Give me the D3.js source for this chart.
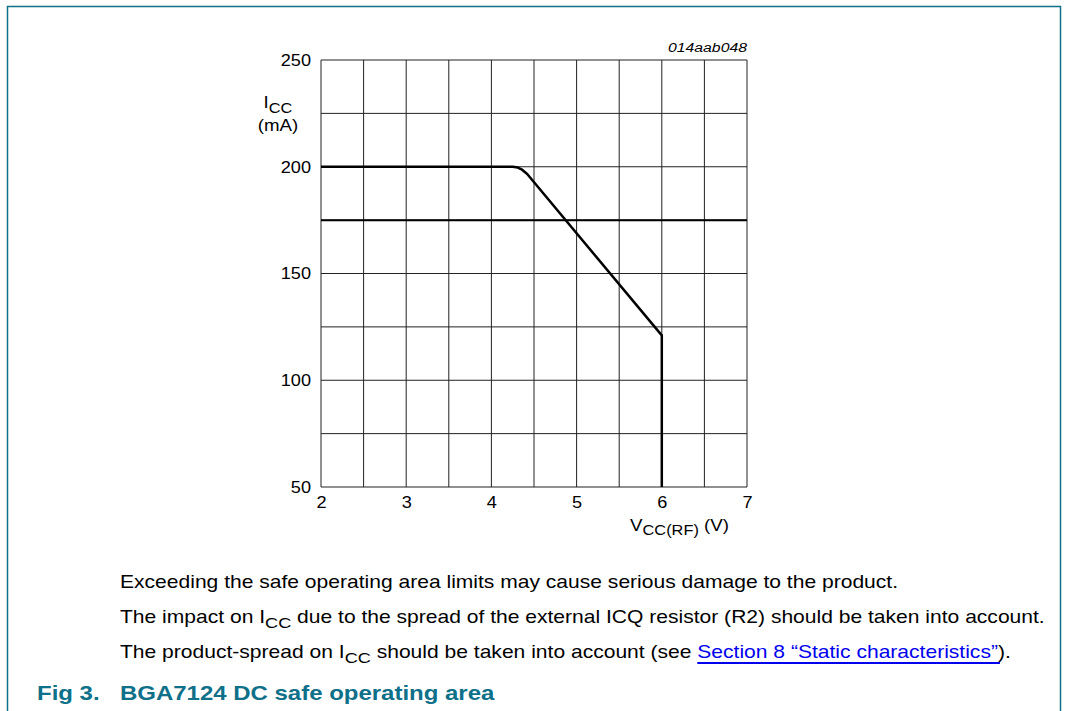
<!DOCTYPE html>
<meta charset="utf-8">
<script src="https://cdn.jsdelivr.net/npm/d3@7"></script>
<style>
body { margin: 0; background: #fff; }
text { font-family: "Liberation Sans", Arial, sans-serif; }
</style>
<body>
<div id="fig"></div>
<script>
// safe operating area boundary (Vcc, Icc)
var soaCurve = [[2, 200], [4.25, 200], [4.31, 199.6], [4.36, 198.6], [4.42, 196.6], [6, 121], [6, 50]]
// horizontal limit line
var limitLine = [[2, 175], [7, 175]]
var xTicks = [2, 3, 4, 5, 6, 7]
var yTicks = [50, 100, 150, 200, 250]
var xGrid = d3.range(2, 7.01, 0.5)
var yGrid = d3.range(50, 250.01, 25)
var notes = [
  ["Exceeding the safe operating area limits may cause serious damage to the product."],
  ["The impact on I", "CC", " due to the spread of the external ICQ resistor (R2) should be taken into account."],
  ["The product-spread on I", "CC", " should be taken into account (see "]
]

var W = 1065, H = 711
var margin = {top: 60, right: 318, bottom: 224, left: 321}
var width = W - margin.left - margin.right
var height = H - margin.top - margin.bottom
var teal = "#0e7089"
var sx = 1.17   // the source typesetting is a bit wider than plain Arial

var svg = d3.select("#fig").append("svg")
  .attr("width", W)
  .attr("height", H)

// text placed at (x,y) and stretched horizontally
function label(parent, px, py, size) {
  return parent.append("text")
    .attr("transform", "translate(" + px + "," + py + ") scale(" + sx + ",1)")
    .style("font-size", size + "px")
}

// page frame
svg.append("path")
  .attr("d", "M7.5," + H + "V6.5H1060.5V" + H)
  .attr("fill", "none")
  .attr("stroke", teal)
  .attr("stroke-width", 1.5)

var x = d3.scaleLinear().domain([2, 7]).range([0, width])
var y = d3.scaleLinear().domain([50, 250]).range([height, 0])

var g = svg.append("g")
  .attr("transform", "translate(" + margin.left + "," + margin.top + ")")

// grid
g.selectAll(".vgrid").data(xGrid).enter().append("line")
  .attr("class", "vgrid")
  .attr("x1", function(d){ return x(d) }).attr("x2", function(d){ return x(d) })
  .attr("y1", 0).attr("y2", height)
  .attr("stroke", "#222").attr("stroke-width", 1)

g.selectAll(".hgrid").data(yGrid).enter().append("line")
  .attr("class", "hgrid")
  .attr("y1", function(d){ return y(d) }).attr("y2", function(d){ return y(d) })
  .attr("x1", 0).attr("x2", width)
  .attr("stroke", "#222").attr("stroke-width", 1)

// axes (labels only)
var xAxis = d3.axisBottom(x).tickValues(xTicks).tickFormat(d3.format("d")).tickSize(0).tickPadding(9)
var yAxis = d3.axisLeft(y).tickValues(yTicks).tickFormat(d3.format("d")).tickSize(0).tickPadding(10)

var xa = g.append("g").attr("transform", "translate(0," + height + ")").call(xAxis)
xa.select(".domain").remove()
xa.selectAll("text")
  .attr("font-size", 16.5).attr("font-family", "Liberation Sans, Arial, sans-serif")
  .attr("fill", "#000").attr("dy", "0.75em")
  .attr("transform", "scale(1.1,1)")

var ya = g.append("g").call(yAxis)
ya.select(".domain").remove()
ya.selectAll("text")
  .attr("font-size", 16.5).attr("font-family", "Liberation Sans, Arial, sans-serif")
  .attr("fill", "#000").attr("x", -10 / 1.1)
  .attr("transform", "scale(1.1,1)")

var line = d3.line()
  .x(function(d){ return x(d[0]) })
  .y(function(d){ return y(d[1]) })

g.append("path").datum(limitLine)
  .attr("d", line).attr("fill", "none")
  .attr("stroke", "#000").attr("stroke-width", 2)

g.append("path").datum(soaCurve)
  .attr("d", line).attr("fill", "none")
  .attr("stroke", "#000").attr("stroke-width", 2.5)
  .attr("stroke-linejoin", "round")

// figure id
label(g, width, -8, 13.5)
  .attr("text-anchor", "end")
  .style("font-style", "italic")
  .text("014aab048")

// y label
var yl = label(g, -43, 48, 16).attr("text-anchor", "middle")
yl.append("tspan").text("I")
yl.append("tspan").attr("dy", 5).style("font-size", "14px").text("CC")
label(g, -43, 71, 16).attr("text-anchor", "middle").text("(mA)")

// x label
var xl = label(g, 309, height + 44, 16)
xl.append("tspan").text("V")
xl.append("tspan").attr("dy", 4).style("font-size", "14px").text("CC(RF)")
xl.append("tspan").attr("dy", -4).text(" (V)")

// notes
var ny = [588, 623, 658]
notes.forEach(function(parts, i){
  var t = label(svg, 120, ny[i], 18)
  parts.forEach(function(p, j){
    var ts = t.append("tspan").text(p)
    if (j == 1) ts.attr("dy", 5).style("font-size", "15.5px")
    if (j == 2) ts.attr("dy", -5)
  })
  if (i == 2) {
    var link = t.append("tspan").attr("fill", "#0000ee").text("Section 8 \u201cStatic characteristics\u201d")
    t.append("tspan").text(").")
    var start = link.node().getStartPositionOfChar(0).x
    var end = link.node().getEndPositionOfChar(link.node().getNumberOfChars() - 1).x
    svg.append("line")
      .attr("x1", 120 + start * sx).attr("x2", 120 + end * sx + 2)
      .attr("y1", ny[i] + 5).attr("y2", ny[i] + 5)
      .attr("stroke", "#0000ee").attr("stroke-width", 2)
  }
})

// caption
label(svg, 37, 700, 20.5)
  .style("font-weight", "bold").attr("fill", teal)
  .text("Fig 3.")
label(svg, 120, 700, 20.5)
  .style("font-weight", "bold").attr("fill", teal)
  .text("BGA7124 DC safe operating area")
</script>
</body>
